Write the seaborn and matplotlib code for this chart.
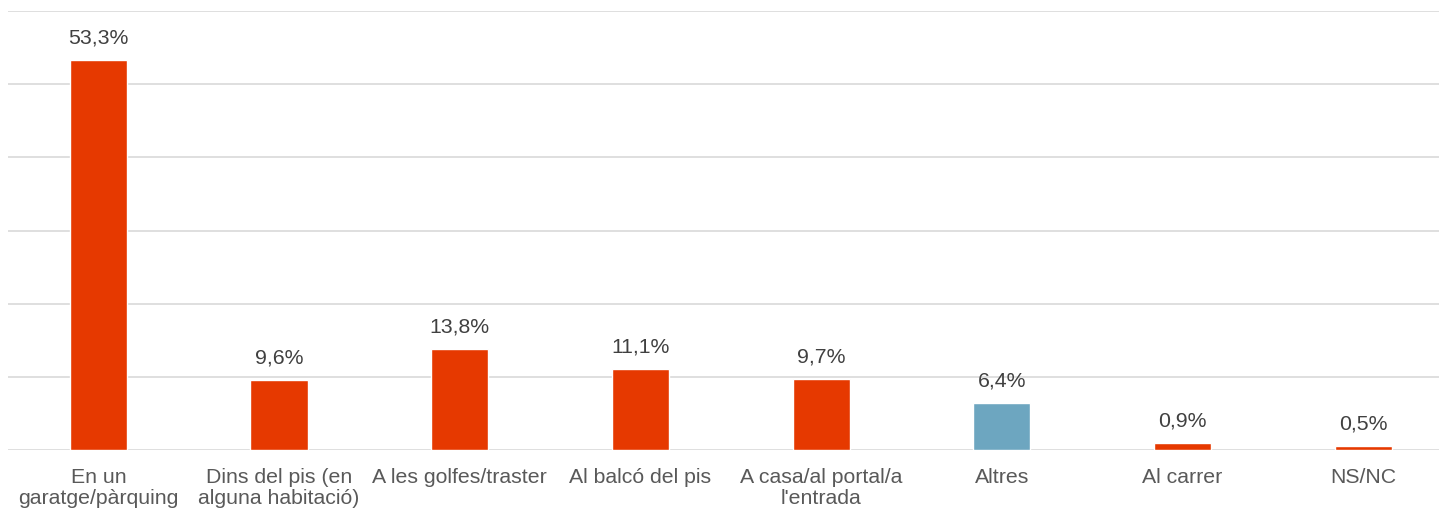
import matplotlib
matplotlib.use("Agg")
import matplotlib.pyplot as plt
import pandas as pd
import seaborn as sns

categories = ["En un\ngaratge/pàrquing", "Dins del pis (en\nalguna habitació)",
              "A les golfes/traster", "Al balcó del pis",
              "A casa/al portal/a\nl'entrada", "Altres", "Al carrer", "NS/NC"]
values = [53.3, 9.6, 13.8, 11.1, 9.7, 6.4, 0.9, 0.5]
bar_colors = ["#E63900", "#E63900", "#E63900", "#E63900",
              "#E63900", "#6DA6C0", "#E63900", "#E63900"]

sns.set_theme(style="white")
plt.rcParams["font.family"] = ["Liberation Sans", "DejaVu Sans"]

df = pd.DataFrame({"cat": categories, "val": values})

fig = plt.figure(figsize=(14.39, 5.12), dpi=100)
ax = fig.add_axes([8 / 1439, 1 - 450 / 512, 1431 / 1439, 439 / 512])

sns.barplot(data=df, x="cat", y="val", hue="cat", palette=bar_colors,
            legend=False, width=0.316, ax=ax, saturation=1)

ax.set_xlim(-0.5, 7.42)
ax.set_ylim(0, 60)
ax.set_yticks(range(0, 61, 10))
ax.set_yticklabels([])
ax.yaxis.grid(True, color="#D9D9D9", linewidth=1.2)
ax.set_axisbelow(True)
for s in ax.spines.values():
    s.set_visible(False)
ax.tick_params(axis="both", length=0)
ax.tick_params(axis="x", pad=13, labelsize=15.3, labelcolor="#595959")
for lab in ax.get_xticklabels():
    lab.set_linespacing(1.15)
ax.set_xlabel("")
ax.set_ylabel("")

for i, v in enumerate(values):
    ax.annotate(f"{v:.1f}".replace(".", ",") + "%", (i, v),
                xytext=(0, 9), textcoords="offset points",
                ha="center", va="bottom", fontsize=15.3, color="#404040")

fig.savefig("out.png", dpi=100)
